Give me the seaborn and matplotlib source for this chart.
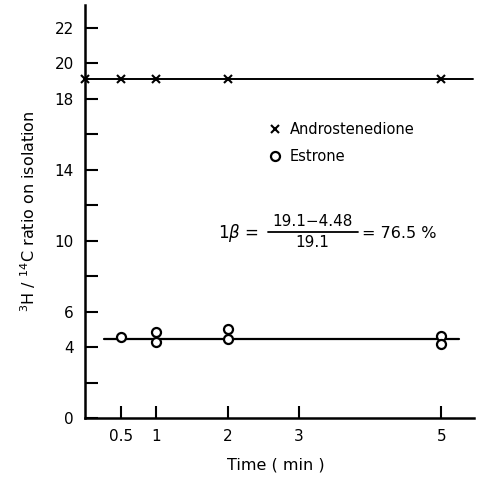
import matplotlib

matplotlib.use("Agg")
import matplotlib.pyplot as plt
import pandas as pd
import seaborn as sns

# Data
andro_time = [0, 0.5, 1, 2, 5]
andro_ratio = [19.1, 19.1, 19.1, 19.1, 19.1]
estrone_time = [0.5, 1, 1, 2, 2, 5, 5]
estrone_ratio = [4.55, 4.85, 4.3, 5.0, 4.45, 4.65, 4.15]

# Mean ratio lines drawn through the points
andro_fit_time = [0, 5.45]
andro_fit_ratio = [19.1, 19.1]
estrone_fit_time = [0.27, 5.25]
estrone_fit_ratio = [4.48, 4.48]

x_ticks = [0.5, 1, 2, 3, 5]
x_tick_labels = ["0.5", "1", "2", "3", "5"]
y_ticks = [0, 2, 4, 6, 8, 10, 12, 14, 16, 18, 20, 22]
y_tick_labels = ["0", "", "4", "6", "", "10", "", "14", "", "18", "20", "22"]

sns.set_style("ticks")
plt.rcParams["font.family"] = ["DejaVu Sans"]
plt.rcParams["mathtext.fontset"] = "dejavusans"
plt.rcParams["text.color"] = "black"
plt.rcParams["axes.labelcolor"] = "black"

fig = plt.figure(figsize=(4.78, 4.86), dpi=100)
ax = fig.add_axes([0.178, 0.14, 0.814, 0.85])

df_andro = pd.DataFrame({"time": andro_time, "ratio": andro_ratio})
df_estrone = pd.DataFrame({"time": estrone_time, "ratio": estrone_ratio})

sns.lineplot(x=andro_fit_time, y=andro_fit_ratio, color="black", lw=1.4, ax=ax)
sns.lineplot(x=estrone_fit_time, y=estrone_fit_ratio, color="black", lw=1.6, ax=ax)
ax.plot(df_andro["time"], df_andro["ratio"], ls="none", marker="x", ms=6,
        mew=1.5, color="black", label="Androstenedione", clip_on=False, zorder=5)
ax.plot(df_estrone["time"], df_estrone["ratio"], ls="none", marker="o", ms=6.5,
        mew=1.6, mfc="white", mec="black", label="Estrone", zorder=5)

ax.set_xlim(0, 5.46)
ax.set_ylim(0, 23.3)
ax.set_xticks(x_ticks)
ax.set_xticklabels(x_tick_labels, fontsize=11)
ax.set_yticks(y_ticks)
ax.set_yticklabels(y_tick_labels, fontsize=11)
ax.tick_params(axis="both", direction="in", length=9, width=1.5, colors="black",
               pad=8)
sns.despine(ax=ax)
for side in ["left", "bottom"]:
    ax.spines[side].set_linewidth(1.8)
    ax.spines[side].set_color("black")

ax.set_xlabel("Time ( min )", fontsize=11.5)
ax.xaxis.set_label_coords(0.49, -0.095)
ax.set_ylabel(r"$^{3}$H / $^{14}$C ratio on isolation", fontsize=11.5, labelpad=12)

ax.legend(loc="upper left", bbox_to_anchor=(0.44, 0.748), frameon=False,
          handlelength=0.8, handletextpad=0.6, labelspacing=0.8, fontsize=10.5)

# Formula for the % tritium loss
ax.text(1.86, 10.43, r"1$\beta$ =", fontsize=12, va="center", ha="left")
ax.text(3.19, 11.1, "19.1\u22124.48", fontsize=11, va="center", ha="center")
ax.plot([2.56, 3.83], [10.49, 10.49], color="black", lw=1.3)
ax.text(3.19, 9.9, "19.1", fontsize=11, va="center", ha="center")
ax.text(3.88, 10.43, "= 76.5 %", fontsize=11.5, va="center", ha="left")

fig.savefig("out.png", dpi=100)
